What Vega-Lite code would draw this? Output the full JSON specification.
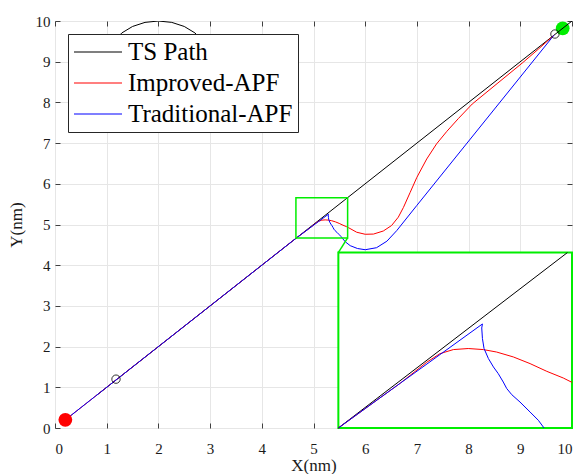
{
  "$schema": "https://vega.github.io/schema/vega-lite/v6.json",
  "width": 517,
  "height": 407,
  "autosize": {"type": "none"},
  "padding": {"left": 55, "top": 21, "right": 7, "bottom": 46},
  "background": "white",
  "config": {
    "font": "Liberation Serif",
    "style": {
      "guide-label": {"font": "Liberation Serif"},
      "guide-title": {"font": "Liberation Serif"}
    },
    "view": {"stroke": "#404040", "strokeWidth": 1},
    "axis": {
      "labelFont": "Liberation Serif",
      "titleFont": "Liberation Serif",
      "labelFontSize": 15,
      "titleFontSize": 17,
      "titleFontWeight": "normal",
      "labelColor": "#1a1a1a",
      "titleColor": "#1a1a1a",
      "gridColor": "#e6e6e6",
      "tickColor": "#404040",
      "domain": false,
      "tickSize": -5
    },
    "legend": {
      "orient": "top-left",
      "offset": 13,
      "padding": 5,
      "strokeColor": "#262626",
      "fillColor": "white",
      "cornerRadius": 0,
      "labelFont": "Liberation Serif",
      "labelFontSize": 25,
      "labelColor": "black",
      "labelOffset": 29,
      "symbolType": "M-1,0H3",
      "symbolSize": 576,
      "symbolStrokeWidth": 1.2,
      "rowPadding": 5,
      "labelLimit": 400
    }
  },
  "datasets": {
    "paths": [
      {"series": "TS Path", "i": 0, "x": 0.8, "y": 0.8},
      {"series": "TS Path", "i": 1, "x": 4.66, "y": 4.66},
      {"series": "TS Path", "i": 2, "x": 5.66, "y": 5.66},
      {"series": "TS Path", "i": 3, "x": 10, "y": 10},
      {"series": "Improved-APF", "i": 0, "x": 0.2, "y": 0.2},
      {"series": "Improved-APF", "i": 1, "x": 4.66, "y": 4.66},
      {"series": "Improved-APF", "i": 2, "x": 4.93, "y": 4.915},
      {"series": "Improved-APF", "i": 3, "x": 5.046, "y": 5.035},
      {"series": "Improved-APF", "i": 4, "x": 5.104, "y": 5.084},
      {"series": "Improved-APF", "i": 5, "x": 5.162, "y": 5.107},
      {"series": "Improved-APF", "i": 6, "x": 5.227, "y": 5.113},
      {"series": "Improved-APF", "i": 7, "x": 5.293, "y": 5.107},
      {"series": "Improved-APF", "i": 8, "x": 5.351, "y": 5.093},
      {"series": "Improved-APF", "i": 9, "x": 5.424, "y": 5.065},
      {"series": "Improved-APF", "i": 10, "x": 5.497, "y": 5.027},
      {"series": "Improved-APF", "i": 11, "x": 5.57, "y": 4.983},
      {"series": "Improved-APF", "i": 12, "x": 5.642, "y": 4.945},
      {"series": "Improved-APF", "i": 13, "x": 5.68, "y": 4.92},
      {"series": "Improved-APF", "i": 14, "x": 5.835, "y": 4.81},
      {"series": "Improved-APF", "i": 15, "x": 6.0, "y": 4.76},
      {"series": "Improved-APF", "i": 16, "x": 6.16, "y": 4.765},
      {"series": "Improved-APF", "i": 17, "x": 6.35, "y": 4.84},
      {"series": "Improved-APF", "i": 18, "x": 6.51, "y": 4.975},
      {"series": "Improved-APF", "i": 19, "x": 6.64, "y": 5.18},
      {"series": "Improved-APF", "i": 20, "x": 6.74, "y": 5.42},
      {"series": "Improved-APF", "i": 21, "x": 6.87, "y": 5.79},
      {"series": "Improved-APF", "i": 22, "x": 7.0, "y": 6.16},
      {"series": "Improved-APF", "i": 23, "x": 7.19, "y": 6.61},
      {"series": "Improved-APF", "i": 24, "x": 7.38, "y": 6.98},
      {"series": "Improved-APF", "i": 25, "x": 7.58, "y": 7.29},
      {"series": "Improved-APF", "i": 26, "x": 7.8, "y": 7.6},
      {"series": "Improved-APF", "i": 27, "x": 8.07, "y": 7.96},
      {"series": "Improved-APF", "i": 28, "x": 8.55, "y": 8.46},
      {"series": "Improved-APF", "i": 29, "x": 9.05, "y": 8.98},
      {"series": "Improved-APF", "i": 30, "x": 9.35, "y": 9.31},
      {"series": "Improved-APF", "i": 31, "x": 9.65, "y": 9.65},
      {"series": "Traditional-APF", "i": 0, "x": 0.2, "y": 0.2},
      {"series": "Traditional-APF", "i": 1, "x": 4.66, "y": 4.66},
      {"series": "Traditional-APF", "i": 2, "x": 4.93, "y": 4.915},
      {"series": "Traditional-APF", "i": 3, "x": 5.1, "y": 5.075},
      {"series": "Traditional-APF", "i": 4, "x": 5.289, "y": 5.253},
      {"series": "Traditional-APF", "i": 5, "x": 5.286, "y": 5.23},
      {"series": "Traditional-APF", "i": 6, "x": 5.289, "y": 5.17},
      {"series": "Traditional-APF", "i": 7, "x": 5.296, "y": 5.113},
      {"series": "Traditional-APF", "i": 8, "x": 5.315, "y": 5.056},
      {"series": "Traditional-APF", "i": 9, "x": 5.337, "y": 5.008},
      {"series": "Traditional-APF", "i": 10, "x": 5.358, "y": 4.97},
      {"series": "Traditional-APF", "i": 11, "x": 5.38, "y": 4.922},
      {"series": "Traditional-APF", "i": 12, "x": 5.395, "y": 4.885},
      {"series": "Traditional-APF", "i": 13, "x": 5.417, "y": 4.85},
      {"series": "Traditional-APF", "i": 14, "x": 5.453, "y": 4.808},
      {"series": "Traditional-APF", "i": 15, "x": 5.497, "y": 4.751},
      {"series": "Traditional-APF", "i": 16, "x": 5.533, "y": 4.704},
      {"series": "Traditional-APF", "i": 17, "x": 5.558, "y": 4.66},
      {"series": "Traditional-APF", "i": 18, "x": 5.62, "y": 4.57},
      {"series": "Traditional-APF", "i": 19, "x": 5.71, "y": 4.48},
      {"series": "Traditional-APF", "i": 20, "x": 5.85, "y": 4.41},
      {"series": "Traditional-APF", "i": 21, "x": 6.0, "y": 4.38},
      {"series": "Traditional-APF", "i": 22, "x": 6.22, "y": 4.43},
      {"series": "Traditional-APF", "i": 23, "x": 6.42, "y": 4.59},
      {"series": "Traditional-APF", "i": 24, "x": 6.61, "y": 4.85},
      {"series": "Traditional-APF", "i": 25, "x": 7.0, "y": 5.47},
      {"series": "Traditional-APF", "i": 26, "x": 9.65, "y": 9.65}
    ],
    "obstacle": [
      {"i": 0, "x": 3.0, "y": 9.0},
      {"i": 1, "x": 2.966, "y": 9.259},
      {"i": 2, "x": 2.866, "y": 9.5},
      {"i": 3, "x": 2.707, "y": 9.707},
      {"i": 4, "x": 2.5, "y": 9.866},
      {"i": 5, "x": 2.259, "y": 9.966},
      {"i": 6, "x": 2.0, "y": 10.0},
      {"i": 7, "x": 1.741, "y": 9.966},
      {"i": 8, "x": 1.5, "y": 9.866},
      {"i": 9, "x": 1.293, "y": 9.707},
      {"i": 10, "x": 1.134, "y": 9.5},
      {"i": 11, "x": 1.034, "y": 9.259},
      {"i": 12, "x": 1.0, "y": 9.0},
      {"i": 13, "x": 1.034, "y": 8.741},
      {"i": 14, "x": 1.134, "y": 8.5},
      {"i": 15, "x": 1.293, "y": 8.293},
      {"i": 16, "x": 1.5, "y": 8.134},
      {"i": 17, "x": 1.741, "y": 8.034},
      {"i": 18, "x": 2.0, "y": 8.0},
      {"i": 19, "x": 2.259, "y": 8.034},
      {"i": 20, "x": 2.5, "y": 8.134},
      {"i": 21, "x": 2.707, "y": 8.293},
      {"i": 22, "x": 2.866, "y": 8.5},
      {"i": 23, "x": 2.966, "y": 8.741},
      {"i": 24, "x": 3.0, "y": 9.0}
    ],
    "markers": [
      {"kind": "start", "x": 0.2, "y": 0.2},
      {"kind": "goal", "x": 9.82, "y": 9.82},
      {"kind": "ts", "x": 1.18, "y": 1.2},
      {"kind": "ts", "x": 9.67, "y": 9.68}
    ],
    "zoombox": [{"x1": 4.66, "x2": 5.66, "y1": 4.67, "y2": 5.66}],
    "connector": [{"i": 0, "x": 5.66, "y": 4.67}, {"i": 1, "x": 5.48, "y": 4.31}],
    "insetframe": [{"x1": 4.66, "x2": 5.68, "y1": 4.66, "y2": 5.66}]
  },
  "layer": [
    {
      "layer": [
        {
          "data": {"name": "obstacle"},
          "mark": {"type": "line", "stroke": "black", "strokeWidth": 1, "clip": true},
          "encoding": {
            "x": {"field": "x", "type": "quantitative", "scale": {"domain": [0, 10], "nice": false, "zero": false}, "axis": null},
            "y": {"field": "y", "type": "quantitative", "scale": {"domain": [0, 10], "nice": false, "zero": false}, "axis": null},
            "order": {"field": "i", "type": "quantitative"}
          }
        },
        {
          "data": {"name": "markers"},
          "transform": [{"filter": "datum.kind === 'goal'"}],
          "mark": {"type": "point", "shape": "circle", "filled": true, "fill": "#00ee00", "strokeWidth": 0, "size": 190, "opacity": 1},
          "encoding": {
            "x": {"field": "x", "type": "quantitative", "axis": null},
            "y": {"field": "y", "type": "quantitative", "axis": null}
          }
        },
        {
          "data": {"name": "paths"},
          "mark": {"type": "line", "strokeWidth": 1, "clip": true},
          "encoding": {
            "x": {"field": "x", "type": "quantitative", "scale": {"domain": [0, 10], "nice": false, "zero": false},
              "axis": {"orient": "bottom", "title": "X(nm)", "values": [0,1,2,3,4,5,6,7,8,9,10], "grid": true, "labelPadding": 18, "titlePadding": 1, "labelFont": "Liberation Serif", "titleFont": "Liberation Serif"}},
            "y": {"field": "y", "type": "quantitative", "scale": {"domain": [0, 10], "nice": false, "zero": false},
              "axis": {"orient": "left", "title": "Y(nm)", "values": [0,1,2,3,4,5,6,7,8,9,10], "grid": true, "labelPadding": 10, "titlePadding": 10, "labelFont": "Liberation Serif", "titleFont": "Liberation Serif"}},
            "color": {"field": "series", "type": "nominal",
              "scale": {"domain": ["TS Path", "Improved-APF", "Traditional-APF"], "range": ["#000000", "#ff0000", "#0000ff"]},
              "legend": {"title": null, "labelFont": "Liberation Serif"}},
            "order": {"field": "i", "type": "quantitative"}
          }
        },
        {
          "data": {"name": "markers"},
          "transform": [{"filter": "datum.kind === 'start'"}],
          "mark": {"type": "point", "shape": "circle", "filled": true, "fill": "#ff0000", "strokeWidth": 0, "size": 190, "opacity": 1},
          "encoding": {
            "x": {"field": "x", "type": "quantitative", "axis": null},
            "y": {"field": "y", "type": "quantitative", "axis": null}
          }
        },
        {
          "data": {"name": "markers"},
          "transform": [{"filter": "datum.kind === 'ts'"}],
          "mark": {"type": "point", "shape": "circle", "filled": false, "stroke": "#000000", "strokeWidth": 0.8, "size": 70, "opacity": 1},
          "encoding": {
            "x": {"field": "x", "type": "quantitative", "axis": null},
            "y": {"field": "y", "type": "quantitative", "axis": null}
          }
        },
        {
          "data": {"name": "zoombox"},
          "mark": {"type": "rect", "fill": null, "fillOpacity": 0, "stroke": "#00ee00", "strokeWidth": 1.5},
          "encoding": {
            "x": {"field": "x1", "type": "quantitative",
              "axis": {"orient": "top", "labels": false, "grid": false, "title": null, "values": [0,1,2,3,4,5,6,7,8,9,10]}},
            "x2": {"field": "x2"},
            "y": {"field": "y1", "type": "quantitative",
              "axis": {"orient": "right", "labels": false, "grid": false, "title": null, "values": [0,1,2,3,4,5,6,7,8,9,10]}},
            "y2": {"field": "y2"}
          }
        },
        {
          "data": {"name": "connector"},
          "mark": {"type": "line", "stroke": "#00ee00", "strokeWidth": 1.5},
          "encoding": {
            "x": {"field": "x", "type": "quantitative", "axis": null},
            "y": {"field": "y", "type": "quantitative", "axis": null},
            "order": {"field": "i", "type": "quantitative"}
          }
        }
      ],
      "resolve": {"axis": {"x": "independent", "y": "independent"}}
    },
    {
      "layer": [
        {
          "data": {"name": "insetframe"},
          "mark": {"type": "rect", "fill": "white", "stroke": "#00ee00", "strokeWidth": 2},
          "encoding": {
            "x": {"field": "x1", "type": "quantitative", "scale": {"domain": [3.423, 5.68], "nice": false, "zero": false}, "axis": null},
            "x2": {"field": "x2"},
            "y": {"field": "y1", "type": "quantitative", "scale": {"domain": [4.66, 6.98], "nice": false, "zero": false}, "axis": null},
            "y2": {"field": "y2"}
          }
        },
        {
          "data": {"name": "paths"},
          "transform": [{"filter": "datum.x >= 4.66 && datum.x <= 5.68 && datum.y >= 4.66 && datum.y <= 5.66"}],
          "mark": {"type": "line", "strokeWidth": 1},
          "encoding": {
            "x": {"field": "x", "type": "quantitative", "axis": null},
            "y": {"field": "y", "type": "quantitative", "axis": null},
            "stroke": {"field": "series", "type": "nominal",
              "scale": {"domain": ["TS Path", "Improved-APF", "Traditional-APF"], "range": ["#000000", "#ff0000", "#0000ff"]},
              "legend": null},
            "order": {"field": "i", "type": "quantitative"}
          }
        }
      ]
    }
  ],
  "resolve": {"scale": {"x": "independent", "y": "independent"}}
}
